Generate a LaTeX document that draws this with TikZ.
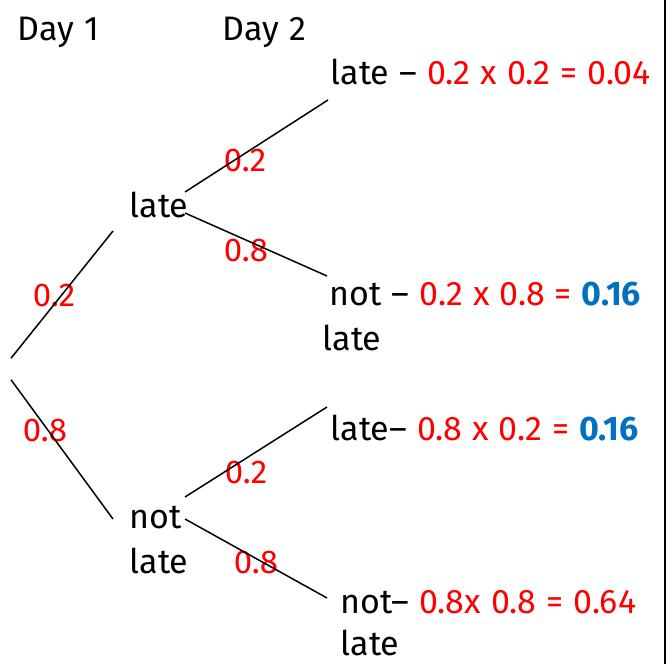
\documentclass[tikz,border=0pt]{standalone}
\usepackage{fontspec}
\setmainfont{Fira Sans}
\definecolor{probred}{RGB}{255,0,0}
\definecolor{ansblue}{RGB}{0,112,192}
\newcommand{\widespace}{\spaceskip=10pt\relax}

\begin{document}
\begin{tikzpicture}[x=1pt,y=-1pt,line width=1.5pt,
            main node/.style={font=\fontsize{34}{45}\selectfont\widespace,inner sep=0pt,anchor=base west,align=left},
            prob node/.style={font=\fontsize{33}{44}\selectfont,text=probred,inner sep=0pt}]

        \useasboundingbox (0,0) rectangle (672,664);

        % Define vertices
        \node[main node] (day1) at (17,40) {Day 1};
        \node[main node] (day2) at (222,40) {Day 2};
        \node[inner sep=0pt,minimum width=0pt,minimum height=20pt] (root) at (11,369) {};
        \node[main node] (late) at (129,217) {late};
        \node[main node] (notlate) at (129,573) {not\\late};
        \node[main node] (ll) at (330,84) {late -- \textcolor{probred}{0.2 x 0.2 = 0.04}};
        \node[main node] (ln) at (322,350) {\hspace*{7pt}not -- \textcolor{probred}{0.2 x 0.8 =} \textcolor{ansblue}{\bfseries 0.16}\\late};
        \node[main node] (nl) at (330,440) {late-- \textcolor{probred}{0.8 x 0.2 =} \textcolor{ansblue}{\bfseries 0.16}};
        \node[main node,font=\fontsize{34}{42}\selectfont\widespace] (nn) at (340,655) {not-- \textcolor{probred}{0.8x 0.8 = 0.64}\\late};

        % Branch probabilities
        \node[prob node] (pl) at (54,295) {0.2};
        \node[prob node] (pn) at (45,430) {0.8};
        \node[prob node] (pll) at (245,160) {0.2};
        \node[prob node] (pln) at (246,250) {0.8};
        \node[prob node] (pnl) at (246,472) {0.2};
        \node[prob node] (pnn) at (256,562) {0.8};

        % Draw edges
        \path
            (root.north) edge ([xshift=-16pt,yshift=-14pt]late.base west)
            (root.south) edge ([xshift=-16pt,yshift=54pt]notlate.base west)
            ([xshift=56pt,yshift=25pt]late.base west) edge ([xshift=-2pt,yshift=-16pt]ll.base west)
            ([xshift=56pt,yshift=4pt]late.base west) edge ([xshift=5pt,yshift=74pt]ln.base west)
            ([xshift=56pt,yshift=76pt]notlate.base west) edge ([xshift=-3pt,yshift=33pt]nl.base west)
            ([xshift=56pt,yshift=54pt]notlate.base west) edge ([xshift=-13pt,yshift=57pt]nn.base west);

        % frame
        \draw (665,0) -- (665,664);

        \end{tikzpicture}
\end{document}
